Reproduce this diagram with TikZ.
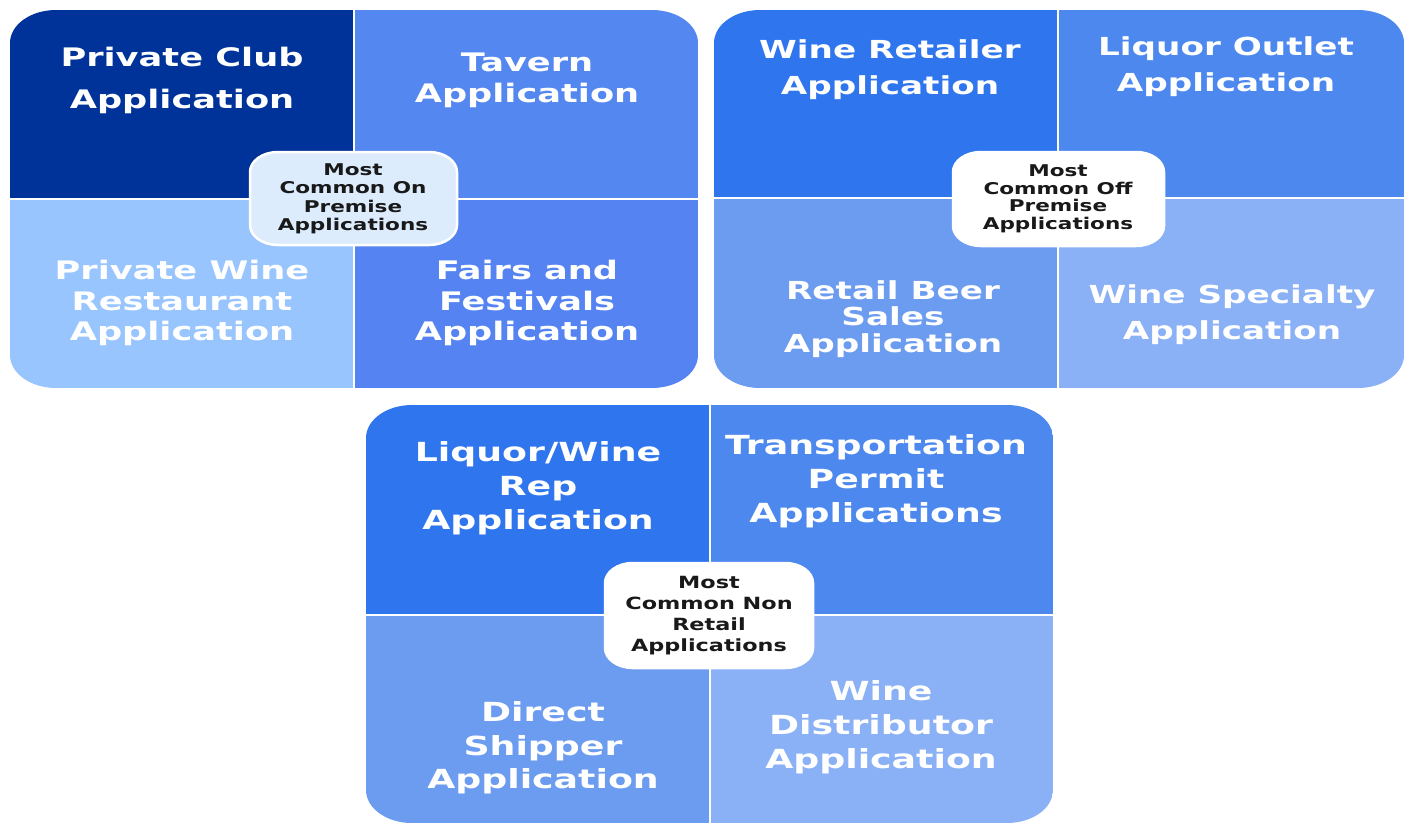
\documentclass[tikz,border=0pt]{standalone}
\usepackage{fontspec}
\newfontfamily\bigf{DejaVu Sans}[FakeStretch=1.38]
\newfontfamily\smf{DejaVu Sans}[FakeStretch=1.33]
\definecolor{dnavy}{HTML}{003399}
\definecolor{tavblue}{HTML}{5587F0}
\definecolor{fairblue}{HTML}{5584F2}
\definecolor{paleblue}{HTML}{99C5FF}
\definecolor{cboxa}{HTML}{DDECFD}
\definecolor{qa}{HTML}{2F75EE}
\definecolor{qb}{HTML}{4C88EE}
\definecolor{qc}{HTML}{6C9CF0}
\definecolor{qd}{HTML}{8AB0F5}
\tikzset{
  erect/.style n args={6}{insert path={
    ({#1+#5},{#2}) -- ({#3-#5},{#2})
    .. controls ({#3-0.448*#5},{#2}) and ({#3},{#2+0.448*#6}) .. ({#3},{#2+#6})
    -- ({#3},{#4-#6})
    .. controls ({#3},{#4-0.448*#6}) and ({#3-0.448*#5},{#4}) .. ({#3-#5},{#4})
    -- ({#1+#5},{#4})
    .. controls ({#1+0.448*#5},{#4}) and ({#1},{#4-0.448*#6}) .. ({#1},{#4-#6})
    -- ({#1},{#2+#6})
    .. controls ({#1},{#2+0.448*#6}) and ({#1+0.448*#5},{#2}) .. ({#1+#5},{#2}) -- cycle}},
  qt/.style 2 args={text=white, align=center, inner sep=0pt,
    font={\bigf\bfseries\fontsize{#1}{#2}\selectfont}},
  ct/.style 2 args={text=black!90, align=center, inner sep=0pt,
    font={\smf\bfseries\fontsize{#1}{#2}\selectfont}},
  sep/.style={draw=white, line width=2.2pt},
  cbox/.style={draw=white, line width=2.5pt}
}
\begin{document}
\begin{tikzpicture}[x=1pt,y=-1pt]
\useasboundingbox[fill=white] (0,0) rectangle (1410,825);
% ---------------- Diagram 1 ----------------
\begin{scope}
  \clip[erect={10}{10}{698}{388}{46}{33}];
  \fill[dnavy] (10,10) rectangle (354,199);
  \fill[tavblue] (354,10) rectangle (698,199);
  \fill[paleblue] (10,199) rectangle (354,388);
  \fill[fairblue] (354,199) rectangle (698,388);
  \draw[sep] (354,10) -- (354,388);
  \draw[sep] (10,199) -- (698,199);
\end{scope}
\path[cbox, fill=cboxa, erect={250}{152}{457}{245}{28}{20}];
\node[qt={25.5}{42}] (pc) at (182,80) {Private Club\\Application};
\node[qt={25.5}{31}] (tv) at (527,80) {Tavern\\Application};
\node[qt={25.5}{30.5}] (pw) at (182,303) {Private Wine\\Restaurant\\Application};
\node[qt={25.5}{30.5}] (ff) at (527,303) {Fairs and\\Festivals\\Application};
\node[ct={16.2}{18.5}] (c1) at (353,199) {Most\\Common On\\Premise\\Applications};
% ---------------- Diagram 2 ----------------
\begin{scope}
  \clip[erect={714}{10}{1404}{388}{46}{33}];
  \fill[qa] (714,10) rectangle (1058,198);
  \fill[qb] (1058,10) rectangle (1404,198);
  \fill[qc] (714,198) rectangle (1058,388);
  \fill[qd] (1058,198) rectangle (1404,388);
  \draw[sep] (1058,10) -- (1058,388);
  \draw[sep] (714,198) -- (1404,198);
\end{scope}
\path[cbox, fill=white, erect={953}{152}{1164}{246}{28}{20}];
\node[qt={24.8}{36}] (wr) at (890,70) {Wine Retailer\\Application};
\node[qt={24.8}{36}] (lo) at (1226,67) {Liquor Outlet\\Application};
\node[qt={24.8}{26.5}] (rb) at (893,319) {Retail Beer\\Sales\\Application};
\node[qt={24.8}{36}] (ws) at (1232,315) {Wine Specialty\\Application};
\node[ct={16.2}{17.5}] (c2) at (1058,199) {Most\\Common Off\\Premise\\Applications};
% ---------------- Diagram 3 ----------------
\begin{scope}
  \clip[erect={366}{405}{1053}{823}{46}{33}];
  \fill[qa] (366,405) rectangle (710,615);
  \fill[qb] (710,405) rectangle (1053,615);
  \fill[qc] (366,615) rectangle (710,823);
  \fill[qd] (710,615) rectangle (1053,823);
  \draw[sep] (710,405) -- (710,823);
  \draw[sep] (366,615) -- (1053,615);
\end{scope}
\path[cbox, fill=white, erect={605}{563}{813}{668}{28}{20}];
\node[qt={26.3}{34}] (lw) at (538,488) {Liquor/Wine\\Rep\\Application};
\node[qt={26.3}{34}] (tp) at (876,481) {Transportation\\Permit\\Applications};
\node[qt={26.3}{33.5}] (ds) at (543,748) {Direct\\Shipper\\Application};
\node[qt={26.3}{34}] (wd) at (881,727) {Wine\\Distributor\\Application};
\node[ct={16.8}{21}] (c3) at (709,616) {Most\\Common Non\\Retail\\Applications};
\end{tikzpicture}
\end{document}
